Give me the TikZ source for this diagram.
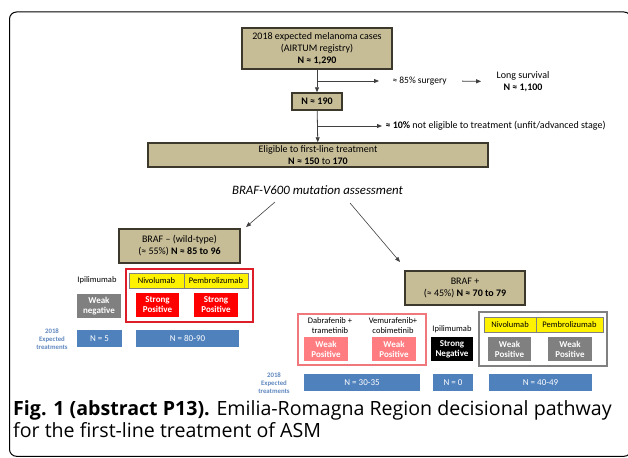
\documentclass[tikz,border=0pt]{standalone}
\usepackage{fontspec}
\setmainfont{Carlito}
\newfontfamily\capfont{Open Sans}
\usetikzlibrary{arrows.meta,positioning}

\definecolor{tanfill}{RGB}{198,188,150}
\definecolor{tanline}{RGB}{60,56,44}
\definecolor{boxblue}{RGB}{79,129,189}
\definecolor{boxred}{RGB}{255,0,0}
\definecolor{boxpink}{RGB}{255,124,128}
\definecolor{boxgray}{RGB}{128,128,128}
\definecolor{framered}{RGB}{220,30,40}
\definecolor{framepink}{RGB}{240,120,125}
\definecolor{labblue}{RGB}{95,135,190}

\tikzset{
    tanbox/.style={draw=tanline,line width=1.4pt,fill=tanfill,align=center,
        inner sep=1pt,font=\fontsize{10}{12}\selectfont},
    drugcell/.style={draw=boxgray,line width=0.6pt,fill=yellow,inner sep=0pt,
        font=\fontsize{8.5}{10}\selectfont},
    scorebox/.style={fill=#1,text=white,align=center,inner sep=0pt,
        minimum height=24pt,font=\bfseries\fontsize{9}{10}\selectfont},
    countbox/.style={fill=boxblue,text=white,inner sep=0pt,minimum height=17pt,
        font=\fontsize{9}{10}\selectfont},
    drugtext/.style={align=center,font=\fontsize{8.5}{9.5}\selectfont},
    yearlab/.style={align=center,text=labblue,font=\bfseries\fontsize{6.8}{8}\selectfont},
    conn/.style={draw=black!75,line width=0.8pt,-{Triangle[length=5pt,width=4pt]}}
}

\begin{document}
\begin{tikzpicture}[x=1pt,y=-1pt]
    \useasboundingbox (0,0) rectangle (628,457);
    \draw[line width=1pt,rounded corners=7pt] (9.5,12) rectangle (631,456.3);

    % top of the pathway
    \node[tanbox,minimum width=150pt,minimum height=41pt] (cases) at (317,48.5)
        {2018 expected melanoma cases\\(AIRTUM registry)\\\textbf{N ≈ 1,290}};
    \node[tanbox,minimum width=50pt,minimum height=17pt] (n190) at (317,101.5)
        {\textbf{N ≈ 190}};
    \node[tanbox,minimum width=340pt,minimum height=24pt] (elig) at (318,155)
        {Eligible to first-line treatment\\\textbf{N ≈ 150} to \textbf{170}};
    \node[anchor=west,font=\fontsize{9.5}{11}\selectfont] (surg) at (389,81) {≈ 85\% surgery};
    \node[align=center,font=\fontsize{10}{12}\selectfont] (surv) at (523,81.5)
        {Long survival\\\textbf{N ≈ 1,100}};
    \node[anchor=west,font=\fontsize{10}{12}\selectfont] (unfit) at (382,126)
        {\textbf{≈ 10\%} not eligible to treatment (unfit/advanced stage)};
    \coordinate (br1) at (317,81);
    \coordinate (br2) at (317,126);
    \draw[conn] (cases) -- (n190);
    \draw[conn] (n190) -- (elig);
    \draw[conn,shorten >=10pt] (br1) -- (surg.west);
    \draw[conn,shorten <=12pt,shorten >=12pt] (surg.east) -- (surv.west);
    \draw[conn] (br2) -- (unfit.west);

    \node[font=\itshape\fontsize{12.8}{14}\selectfont] (assess) at (317.5,190)
        {BRAF-V600 mutation assessment};

    % wild-type branch
    \node[tanbox,minimum width=121pt,minimum height=34pt] (wild) at (179.5,246)
        {BRAF -- (wild-type)\\(≈ 55\%) \textbf{N ≈ 85 to 96}};
    \draw[draw=framered,line width=1.4pt] (126,269) rectangle (253,322);
    \node[drugcell,minimum width=55pt,minimum height=15pt] (niva) at (156.5,280.5) {Nivolumab};
    \node[drugcell,minimum width=64pt,minimum height=15pt] (pema) at (216,280.5) {Pembrolizumab};
    \node[scorebox=boxred,minimum width=43pt] (spa) at (157.5,305) {Strong\\Positive};
    \node[scorebox=boxred,minimum width=44pt] (spb) at (216,305) {Strong\\Positive};
    \node[drugtext] (ipia) at (97,280) {Ipilimumab};
    \node[scorebox=boxgray,minimum width=44pt] (wneg) at (99,306) {Weak\\negative};
    \node[countbox,minimum width=45pt] (cnta) at (99.5,338.5) {N = 5};
    \node[countbox,minimum width=103pt] (cntb) at (187.5,338.5) {N = 80-90};
    \node[yearlab] (yeara) at (52,339) {2018\\Expected\\treatments};

    % mutated branch
    \node[tanbox,minimum width=120pt,minimum height=34pt] (mut) at (465,288)
        {BRAF +\\(≈ 45\%) \textbf{N ≈ 70 to 79}};
    \draw[draw=framepink,line width=1.2pt] (298,314) rectangle (426,365);
    \node[drugtext] (dab) at (330,325.5) {Dabrafenib +\\trametinib};
    \node[drugtext] (vem) at (393,325.5) {Vemurafenib+\\cobimetinib};
    \node[scorebox=boxpink,minimum width=44pt] (wpa) at (326,349) {Weak\\Positive};
    \node[scorebox=boxpink,minimum width=44pt] (wpb) at (394,349) {Weak\\Positive};
    \node[drugtext] (ipib) at (452,329) {Ipilimumab};
    \node[scorebox=black,minimum width=42pt] (sneg) at (452,349) {Strong\\Negative};
    \draw[draw=boxgray,line width=1.2pt] (479,312) rectangle (607,366);
    \node[drugcell,minimum width=52pt,minimum height=15pt] (nivb) at (510,324.5) {Nivolumab};
    \node[drugcell,minimum width=67pt,minimum height=15pt] (pemb) at (569.5,324.5) {Pembrolizumab};
    \node[scorebox=boxgray,minimum width=43pt] (wpc) at (509.5,349) {Weak\\Positive};
    \node[scorebox=boxgray,minimum width=44pt] (wpd) at (570,349) {Weak\\Positive};
    \node[countbox,minimum width=116pt] (cntc) at (362,382.5) {N = 30-35};
    \node[countbox,minimum width=40pt] (cntd) at (453,382.5) {N = 0};
    \node[countbox,minimum width=103pt] (cnte) at (540.5,382.5) {N = 40-49};
    \node[yearlab] (yearb) at (274,383) {2018\\Expected\\treatments};

    \coordinate (tipa) at (246,227);
    \coordinate (tipb) at (400,262);
    \draw[conn,line width=0.6pt] (275,202) -- (tipa);
    \draw[conn,line width=0.6pt] (350,203) -- (tipb);

    % caption
    \node[anchor=north west,align=left,inner sep=0pt,
        font=\capfont\fontsize{19.6}{22}\selectfont] (cap) at (13,400)
        {\textbf{Fig. 1 (abstract P13).} Emilia-Romagna Region decisional pathway\\
         for the first-line treatment of ASM};
\end{tikzpicture}
\end{document}
